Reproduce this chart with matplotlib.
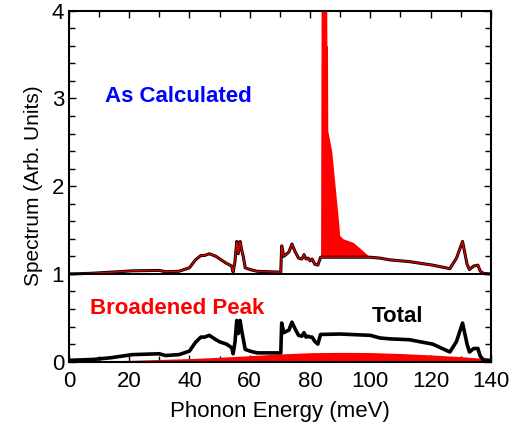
import numpy as np
import matplotlib
matplotlib.use("Agg")
import matplotlib.pyplot as plt
from matplotlib.ticker import MultipleLocator

plt.rcParams['font.family'] = ['Liberation Sans', 'DejaVu Sans']

# phonon energy grid (meV) with spectrum values
energy = [0, 4, 8, 14, 21, 30, 32, 36.5, 40, 42, 43.8, 45, 46.6, 48.8, 50.1,
          52.3, 54, 54.5, 55.1, 55.7, 56.2, 56.8, 57.3, 57.9, 58.5, 60.1, 62.4,
          70.3, 70.6, 71.3, 73, 74, 75.1, 76.2, 77.3, 78, 78.7, 79.4, 80, 80.7,
          81.6, 82.6, 83.5, 90, 100, 103.2, 106.5, 113, 116.8, 120.7, 126.4,
          128.6, 130.6, 132.1, 132.9, 134.3, 135.7, 136.5, 137.6, 139.8, 140]
# calculated spectrum without the sharp peak (plotted offset by 1)
calculated = [0.0, 0.003, 0.008, 0.02, 0.035, 0.04, 0.025, 0.03, 0.07, 0.16,
              0.21, 0.21, 0.23, 0.2, 0.17, 0.12, 0.09, 0.02, 0.14, 0.37, 0.23,
              0.37, 0.28, 0.19, 0.07, 0.05, 0.03, 0.02, 0.32, 0.2, 0.25, 0.34,
              0.25, 0.18, 0.17, 0.22, 0.17, 0.18, 0.15, 0.17, 0.11, 0.10, 0.19,
              0.19, 0.19, 0.18, 0.16, 0.14, 0.12, 0.10, 0.06, 0.18, 0.37, 0.11,
              0.05, 0.09, 0.10, 0.03, 0.005, 0.0, 0.0]
# total spectrum with the broadened peak
total = [0.015, 0.02, 0.025, 0.045, 0.08, 0.09, 0.07, 0.08, 0.12, 0.22, 0.28,
         0.28, 0.30, 0.25, 0.225, 0.2, 0.16, 0.09, 0.22, 0.47, 0.32, 0.47, 0.36,
         0.25, 0.14, 0.12, 0.10, 0.10, 0.44, 0.33, 0.36, 0.45, 0.37, 0.30, 0.29,
         0.33, 0.28, 0.29, 0.28, 0.28, 0.23, 0.20, 0.31, 0.315, 0.30, 0.27,
         0.26, 0.25, 0.225, 0.20, 0.11, 0.23, 0.44, 0.20, 0.11, 0.15, 0.15,
         0.06, 0.02, 0.015, 0.015]

# sharp calculated peak (absolute top in the upper panel)
peak_energy = [83.5, 83.8, 85.3, 85.6, 85.8, 85.9, 87.2, 89.6, 89.8, 91, 94.3,
               97, 99.9]
peak_top = [1.19, 6.0, 6.0, 3.6, 3.6, 2.63, 2.40, 1.55, 1.44, 1.40, 1.36,
            1.28, 1.19]
peak_base = 1.19

# broadened peak
broad_energy = [0, 10, 20, 30, 40, 50, 60, 70, 80, 90, 100, 110, 120, 130, 140]
broad = [0.0, 0.008, 0.015, 0.025, 0.035, 0.05, 0.068, 0.088, 0.102, 0.106,
         0.104, 0.093, 0.077, 0.057, 0.032]

offset = 1.0

fig = plt.figure(figsize=(5.14, 4.28), dpi=100)
ax = fig.add_axes([0.134, 0.155, 0.821, 0.820])

# upper panel: as calculated
ax.fill_between(peak_energy, peak_base, peak_top, color='red', lw=0, zorder=2)
upper = np.array(calculated) + offset
ax.plot(energy, upper, color='black', lw=2.2, zorder=3)
ax.plot(energy, upper, color='#dd0000', lw=1.0, zorder=4)
ax.axhline(offset, color='black', lw=1.4, zorder=5)

# lower panel: broadened peak and total
ax.fill_between(broad_energy, 0, broad, color='red', lw=0, zorder=2)
ax.plot(energy, total, color='black', lw=2.6, zorder=3)

ax.text(12, 3.02, 'As Calculated', color='blue', fontsize=16, fontweight='bold',
        va='center', ha='left')
ax.text(7, 0.61, 'Broadened Peak', color='red', fontsize=16, fontweight='bold',
        va='center', ha='left')
ax.text(100.5, 0.52, 'Total', color='black', fontsize=16, fontweight='bold',
        va='center', ha='left')

ax.set_xlim(0, 140)
ax.set_ylim(0, 4)
ax.xaxis.set_major_locator(MultipleLocator(20))
ax.xaxis.set_minor_locator(MultipleLocator(10))
ax.yaxis.set_major_locator(MultipleLocator(1))
ax.yaxis.set_minor_locator(MultipleLocator(0.2))
ax.tick_params(which='both', direction='in', top=True, right=True,
               labelsize=16, width=1.0)
ax.tick_params(which='major', length=5)
ax.tick_params(which='minor', length=4)
ax.tick_params(axis='x', pad=7)
for sp in ax.spines.values():
    sp.set_linewidth(1.5)

ax.set_xlabel('Phonon Energy (meV)', fontsize=16, labelpad=6)
ax.set_ylabel('Spectrum (Arb. Units)', fontsize=15, labelpad=6)

fig.savefig('out.png', dpi=100)
